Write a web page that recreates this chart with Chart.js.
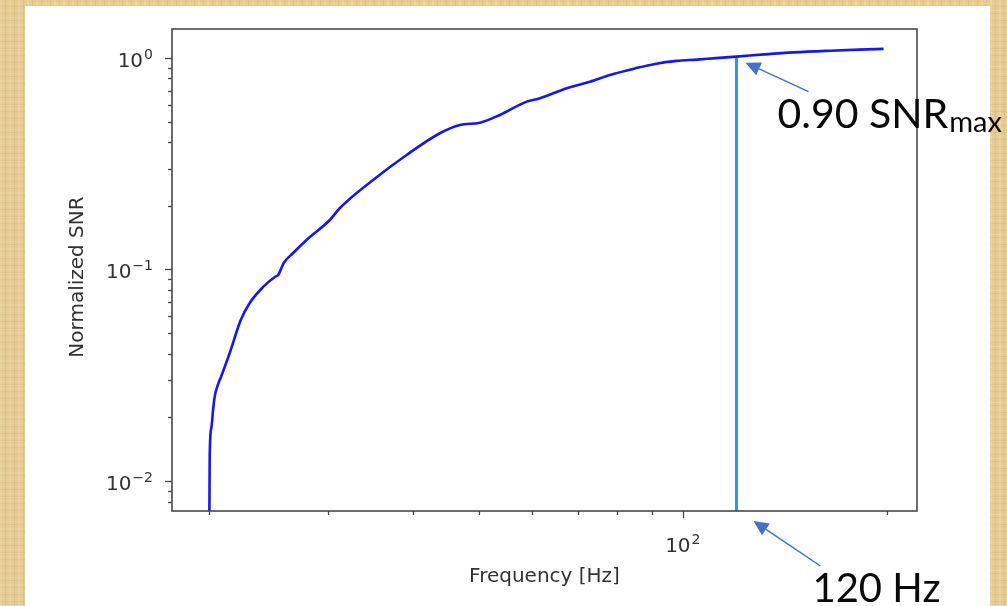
<!DOCTYPE html>
<html>
<head>
<meta charset="utf-8">
<script src="https://cdn.jsdelivr.net/npm/chart.js@4.4.1/dist/chart.umd.min.js"></script>
<style>
  html, body { margin: 0; padding: 0; }
  body {
    width: 1007px; height: 606px; overflow: hidden; position: relative;
    background-color: #e6cc92;
    background-image:
      repeating-linear-gradient(90deg, rgba(255,255,255,0.12) 0 2px, rgba(0,0,0,0) 2px 5px, rgba(140,100,40,0.09) 5px 6px, rgba(0,0,0,0) 6px 9px),
      repeating-linear-gradient(0deg, rgba(255,255,255,0.10) 0 1px, rgba(0,0,0,0) 1px 4px, rgba(140,100,40,0.08) 4px 5px, rgba(0,0,0,0) 5px 7px);
  }
  #panel { position: absolute; left: 25px; top: 6px; width: 965px; height: 600px; background: #ffffff; }
  #wrap { position: absolute; left: 0; top: 0; width: 1007px; height: 606px; }
</style>
</head>
<body>
<div id="panel"></div>
<div id="wrap"><canvas id="c" width="1007" height="606"></canvas></div>
<script>
// Normalized SNR versus upper cutoff frequency
const frequencyHz = [20.0, 20.04, 20.16, 20.27, 20.38, 20.55, 20.85, 21.45, 22.27, 22.96, 24.03, 25.0,
  25.29, 25.77, 26.61, 27.85, 30.14, 31.17, 34.91, 39.12, 43.8, 46.88, 50.19, 53.73, 58.84, 61.55,
  67.42, 72.97, 78.07, 85, 91, 97.97, 105, 112, 120, 132, 145.7, 165, 182, 197.8];
const normalizedSnr = [0.004, 0.0133, 0.0180, 0.0217, 0.0250, 0.0278, 0.0314, 0.0403, 0.0577, 0.0695,
  0.0827, 0.0922, 0.0942, 0.1073, 0.1197, 0.1379, 0.1714, 0.1947, 0.2650, 0.3478, 0.4405, 0.4822,
  0.4943, 0.5377, 0.6215, 0.6449, 0.7192, 0.7724, 0.8311, 0.892, 0.937, 0.968, 0.982, 0.998, 1.014,
  1.039, 1.062, 1.082, 1.095, 1.103];

const cutoffFrequencyHz = 120;
const snrFractionLabel = '0.90 SNR';
const snrFractionSub = 'max';

const xRange = [17.63, 221.6];
const yRange = [0.00722, 1.37];

// labelled decades: base "10" with an exponent
const xMajorTicks = [100];
const xTickExponents = ['2'];
const yMajorTicks = [0.01, 0.1, 1];
const yTickExponents = ['\u22122', '\u22121', '0'];

const xTitle = 'Frequency [Hz]';
const yTitle = 'Normalized SNR';

const INK = '#333333';
const AXIS = '#484848';
const ARROW = '#4472c4';

function decadeTicks(min, max) {
  const out = [];
  for (let e = Math.floor(Math.log10(min)); e <= Math.ceil(Math.log10(max)); e++) {
    for (let k = 1; k <= 9; k++) {
      const v = k * Math.pow(10, e);
      if (v >= min && v <= max) out.push(v);
    }
  }
  return out;
}
function isMajor(v) {
  const l = Math.log10(v);
  return Math.abs(l - Math.round(l)) < 1e-9;
}

const cutoffIdx = frequencyHz.indexOf(cutoffFrequencyHz);
const cutoffSnr = normalizedSnr[cutoffIdx];

function drawArrow(ctx, x1, y1, x2, y2) {
  const ang = Math.atan2(y2 - y1, x2 - x1);
  const head = 15, half = 7;
  const bx = x2 - head * Math.cos(ang), by = y2 - head * Math.sin(ang);
  ctx.save();
  ctx.strokeStyle = ARROW;
  ctx.fillStyle = ARROW;
  ctx.lineWidth = 1.5;
  ctx.beginPath();
  ctx.moveTo(x1, y1);
  ctx.lineTo(bx, by);
  ctx.stroke();
  ctx.beginPath();
  ctx.moveTo(x2, y2);
  ctx.lineTo(bx + half * Math.sin(ang), by - half * Math.cos(ang));
  ctx.lineTo(bx - half * Math.sin(ang), by + half * Math.cos(ang));
  ctx.closePath();
  ctx.fill();
  ctx.restore();
}

// "10" with a raised exponent; anchor 'right' or 'center' at x, base baseline at y
function drawPower(ctx, exp, x, y, anchor) {
  ctx.font = '20px "DejaVu Sans"';
  const wb = ctx.measureText('10').width;
  ctx.font = '14px "DejaVu Sans"';
  const we = ctx.measureText(exp).width;
  const total = wb + 1 + we;
  const left = anchor === 'right' ? x - total : x - total / 2;
  ctx.textAlign = 'left';
  ctx.textBaseline = 'alphabetic';
  ctx.font = '20px "DejaVu Sans"';
  ctx.fillText('10', left, y);
  ctx.font = '14px "DejaVu Sans"';
  ctx.fillText(exp, left + wb + 1, y - 8);
}

// Frame, tick marks, tick labels, axis titles and annotations
const decorations = {
  id: 'decorations',
  afterDraw(chart) {
    const { ctx, chartArea: a, scales } = chart;
    const xs = scales.x, ys = scales.y;
    ctx.save();
    ctx.strokeStyle = AXIS;
    ctx.lineWidth = 1.6;
    ctx.strokeRect(a.left, a.top, a.right - a.left, a.bottom - a.top);

    ctx.lineWidth = 1.3;
    decadeTicks(xRange[0], xRange[1]).forEach(v => {
      const px = Math.round(xs.getPixelForValue(v)) + 0.5;
      const len = isMajor(v) ? 7 : 4;
      ctx.beginPath(); ctx.moveTo(px, a.bottom); ctx.lineTo(px, a.bottom + len); ctx.stroke();
    });
    decadeTicks(yRange[0], yRange[1]).forEach(v => {
      const py = Math.round(ys.getPixelForValue(v)) + 0.5;
      const len = isMajor(v) ? 7 : 4;
      ctx.beginPath(); ctx.moveTo(a.left - len, py); ctx.lineTo(a.left, py); ctx.stroke();
    });

    ctx.fillStyle = INK;
    xMajorTicks.forEach((v, i) => drawPower(ctx, xTickExponents[i], xs.getPixelForValue(v), a.bottom + 41, 'center'));
    yMajorTicks.forEach((v, i) => drawPower(ctx, yTickExponents[i], a.left - 19, ys.getPixelForValue(v) + 9, 'right'));

    // axis titles
    ctx.font = '20px "DejaVu Sans"';
    ctx.textAlign = 'center';
    ctx.textBaseline = 'alphabetic';
    ctx.fillText(xTitle, (a.left + a.right) / 2, 582);
    ctx.save();
    ctx.translate(83, 277);
    ctx.rotate(-Math.PI / 2);
    ctx.fillText(yTitle, 0, 0);
    ctx.restore();

    // annotations at the cutoff point
    const px = xs.getPixelForValue(cutoffFrequencyHz);
    const py = ys.getPixelForValue(cutoffSnr);
    drawArrow(ctx, px + 72, py + 35, px + 9, py + 6);
    drawArrow(ctx, px + 84, a.bottom + 55, px + 17, a.bottom + 10);

    ctx.fillStyle = '#0a0a0a';
    ctx.textAlign = 'left';
    ctx.font = '41px Lato';
    ctx.fillText(snrFractionLabel, px + 41, py + 71);
    const w = ctx.measureText(snrFractionLabel).width;
    ctx.font = '29px Lato';
    ctx.fillText(snrFractionSub, px + 41 + w + 1, py + 75);
    ctx.font = '40px Lato';
    ctx.fillText(cutoffFrequencyHz + ' Hz', px + 76, a.bottom + 91);
    ctx.restore();
  }
};

new Chart(document.getElementById('c'), {
  type: 'line',
  data: {
    datasets: [
      {
        data: frequencyHz.map((f, i) => ({ x: f, y: normalizedSnr[i] })),
        borderColor: '#1717e6',
        borderWidth: 2.6,
        pointRadius: 0,
        cubicInterpolationMode: 'monotone',
        fill: false,
        clip: 0
      },
      {
        data: [{ x: cutoffFrequencyHz, y: yRange[0] }, { x: cutoffFrequencyHz, y: cutoffSnr }],
        borderColor: '#3a96c8',
        borderWidth: 3,
        pointRadius: 0,
        fill: false,
        clip: 0
      }
    ]
  },
  options: {
    responsive: false,
    animation: false,
    devicePixelRatio: 1,
    layout: { padding: { left: 0, right: 90, top: 29, bottom: 0 } },
    plugins: { legend: { display: false }, tooltip: { enabled: false } },
    scales: {
      x: {
        type: 'logarithmic',
        min: xRange[0],
        max: xRange[1],
        afterBuildTicks: s => { s.ticks = decadeTicks(xRange[0], xRange[1]).map(v => ({ value: v, major: isMajor(v) })); },
        afterFit: s => { s.height = 95; },
        grid: { display: false, drawTicks: false },
        border: { display: false },
        ticks: { display: false }
      },
      y: {
        type: 'logarithmic',
        min: yRange[0],
        max: yRange[1],
        afterBuildTicks: s => { s.ticks = decadeTicks(yRange[0], yRange[1]).map(v => ({ value: v, major: isMajor(v) })); },
        afterFit: s => { s.width = 172; },
        grid: { display: false, drawTicks: false },
        border: { display: false },
        ticks: { display: false }
      }
    }
  },
  plugins: [decorations]
});
</script>
</body>
</html>
